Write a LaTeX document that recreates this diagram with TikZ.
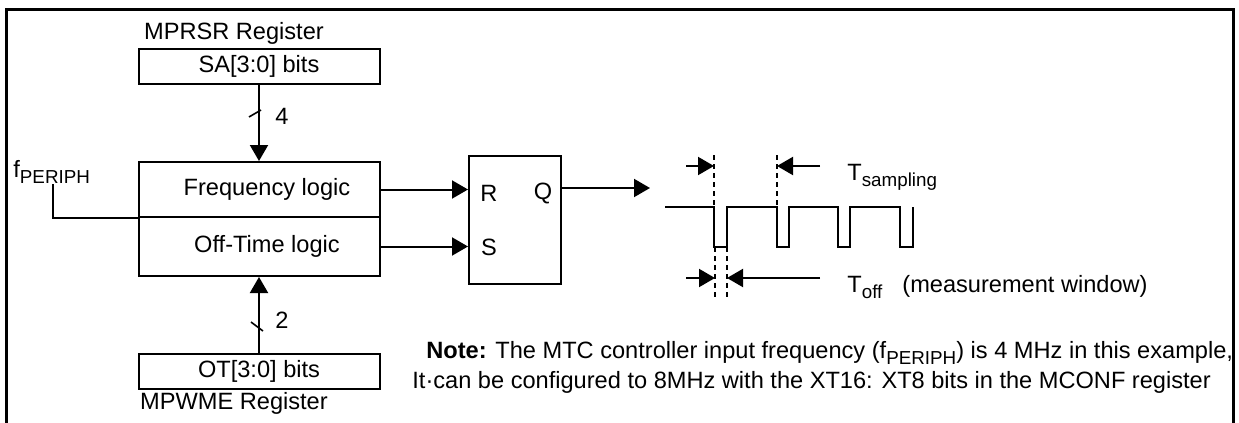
\documentclass[tikz,border=0pt]{standalone}
\usepackage{fontspec}
\setmainfont{Liberation Sans}
\usepackage{tikz}
\usetikzlibrary{arrows.meta}

\newcommand{\lowsub}[1]{\raisebox{-3pt}{\fontsize{9.4}{11}\selectfont #1}}

\tikzset{
    every node/.style={font=\fontsize{11.8}{14}\selectfont, inner sep=0pt},
    regbox/.style={draw, line width=1pt, minimum width=120.5pt, minimum height=17.5pt},
    logicbox/.style={draw, line width=1pt, minimum width=120.5pt},
    sig/.style={line width=1pt, -{Triangle[length=8pt,width=9pt]}},
    tick/.style={line width=0.8pt},
    guide/.style={line width=1pt, dash pattern=on 2.5pt off 2pt},
}

\begin{document}
\begin{tikzpicture}[x=0.5pt,y=-0.5pt]
                    \useasboundingbox (0,0) rectangle (1239,423);
                    \draw[line width=1.5pt] (6,423) -- (6,9) -- (1233,9) -- (1233,423);

                    % registers and logic
                    \node (mprsr) at (234,33) {MPRSR Register};
                    \node[regbox] (sa) at (259,66.5) {SA[3:0] bits};
                    \node[logicbox, minimum height=27.5pt] (freq) at (259,189.5) {\hspace{8pt}Frequency logic};
                    \node[logicbox, minimum height=29.5pt] (offt) at (259,246.5) {\hspace{8pt}Off-Time logic};
                    \node[regbox] (ot) at (259,371.5) {OT[3:0] bits};
                    \node (mpwme) at (234,403) {MPWME Register};

                    \draw[sig] (sa.south) -- (freq.north);
                    \draw[tick] (249,117) -- (261,110);
                    \node (n4) at (282,116) {4};
                    \draw[sig] (ot.north) -- (offt.south);
                    \draw[tick] (251,322) -- (263,331);
                    \node (n2) at (282,320) {2};

                    \node[anchor=base west] (fp) at (13,177) {f\lowsub{PERIPH}};
                    \coordinate (fpin) at (53,184);
                    \draw[line width=1pt] (fpin) |- (freq.south west);

                    % flip-flop
                    \node[draw, line width=1pt, minimum width=46pt, minimum height=64pt] (ff) at (515,220) {};
                    \node (r) at (489,193) {R};
                    \node (s) at (489,247) {S};
                    \node (q) at (543,193) {Q};
                    \draw[sig] (freq.east) -- (freq.east -| ff.west);
                    \draw[sig] (offt.east) -- (offt.east -| ff.west);
                    \coordinate (qout) at (650,188);
                    \draw[sig] (qout -| ff.east) -- (qout);

                    % waveform
                    \draw[line width=1pt] (665,207) -| (714,247) -| (727,207) -| (777,247) -| (789,207)
                        -| (838,247) -| (850,207) -| (900,247) -| (913,207);
                    \foreach \x in {714,777}
                        \draw[guide] (\x,155) -- (\x,207);
                    \foreach \x in {715,727}
                        \draw[guide] (\x,247) -- (\x,299);

                    \coordinate (sa1) at (714,166);
                    \coordinate (sa2) at (777,166);
                    \coordinate (of1) at (715,278);
                    \coordinate (of2) at (727,278);
                    \draw[sig] (686,166) -- (sa1);
                    \draw[sig] (820,166) -- (sa2);
                    \draw[sig] (686,278) -- (of1);
                    \draw[sig] (820,278) -- (of2);

                    \node[anchor=base west] (tsamp) at (847,180) {T\lowsub{sampling}};
                    \node[anchor=base west] (toff) at (847,292) {T\lowsub{off}};
                    \node[anchor=base west] (mwin) at (902,292) {(measurement window)};

                    % note
                    \node[anchor=base west] (note1) at (426,358) {\textbf{Note:} The MTC controller input frequency (f\lowsub{PERIPH}) is 4 MHz in this example,};
                    \node[anchor=base west] (note2) at (412,388) {It·can be configured to 8MHz with the XT16: XT8 bits in the MCONF register};
\end{tikzpicture}
\end{document}
